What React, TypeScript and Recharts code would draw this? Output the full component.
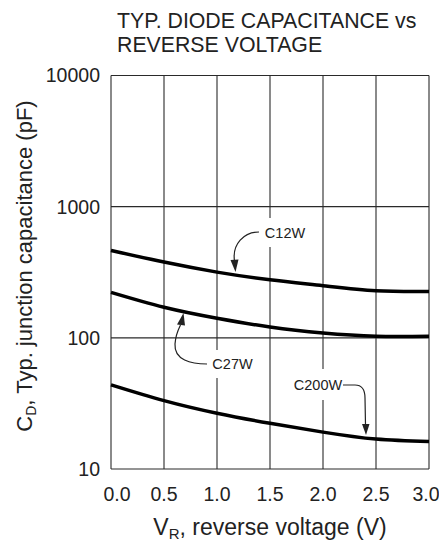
import React from 'react';
import { LineChart, Line, XAxis, YAxis, CartesianGrid } from 'recharts';

// reverse voltage (V) and typ. diode capacitance (pF) per part
const voltage = [0, 0.5, 1.0, 1.5, 2.0, 2.5, 3.0];
const c12w = [464, 378, 317, 277, 250, 229, 226];
const c27w = [222, 171, 141, 121, 109, 103, 103];
const c200w = [43.8, 33.2, 26.6, 22.3, 19.1, 16.9, 16.2];

const xTicks = [0, 0.5, 1.0, 1.5, 2.0, 2.5, 3.0];
const yTicks = [10, 100, 1000, 10000];

const data = voltage.map((v, i) => ({
  v,
  C12W: c12w[i],
  C27W: c27w[i],
  C200W: c200w[i],
}));

const W = 439;
const H = 533;
const FONT = '"Liberation Sans", Arial, Helvetica, sans-serif';
const INK = '#222';

function XTick(props: any) {
  const { x, y, payload, index } = props;
  const shift = index === 0 ? 6 : index === xTicks.length - 1 ? -3 : 0;
  return (
    <text x={x + shift} y={y} dy="0.71em" textAnchor="middle" fontSize={19.5} fill={INK} fontFamily={FONT}>
      {payload.value.toFixed(1)}
    </text>
  );
}

function YTick(props: any) {
  const { x, y, payload } = props;
  return (
    <text x={x} y={y} dy="0.355em" textAnchor="end" fontSize={19.5} fill={INK} fontFamily={FONT}>
      {payload.value}
    </text>
  );
}

function Arrowhead({ points }: { points: string }) {
  return <polygon points={points} fill={INK} />;
}

export default function App() {
  return (
    <div style={{ position: 'relative', width: W, height: H, fontFamily: FONT }}>
      <LineChart
        width={W}
        height={H}
        data={data}
        margin={{ top: 67.5, right: 18, bottom: 0, left: 0 }}
      >
        <CartesianGrid stroke="#2a2a2a" strokeWidth={1.1} />
        <XAxis
          dataKey="v"
          type="number"
          domain={[0, 3]}
          ticks={xTicks}
          height={72}
          tickLine={false}
          axisLine={false}
          tickSize={6}
          tickMargin={12}
          tick={<XTick />}
          interval={0}
        />
        <YAxis
          scale="log"
          domain={[10, 10000]}
          ticks={yTicks}
          width={103}
          allowDataOverflow
          tickLine={false}
          axisLine={false}
          tickSize={6}
          tickMargin={5}
          tick={<YTick />}
          interval={0}
        />
        <Line type="natural" dataKey="C12W" stroke="#000" strokeWidth={3.5} dot={false} isAnimationActive={false} />
        <Line type="natural" dataKey="C27W" stroke="#000" strokeWidth={3.5} dot={false} isAnimationActive={false} />
        <Line type="natural" dataKey="C200W" stroke="#000" strokeWidth={3.5} dot={false} isAnimationActive={false} />
      </LineChart>

      <svg
        width={W}
        height={H}
        style={{ position: 'absolute', left: 0, top: 0, pointerEvents: 'none' }}
      >
        {/* title */}
        <text x={109} y={20} fontSize={21.3} fill={INK} fontFamily={FONT}>TYP. DIODE CAPACITANCE vs</text>
        <text x={109} y={43.5} fontSize={21.3} fill={INK} fontFamily={FONT}>REVERSE VOLTAGE</text>

        {/* axis titles */}
        <text
          x={24}
          y={258}
          transform="rotate(-90 24 258)"
          textAnchor="middle"
          fontSize={22}
          fill={INK}
          fontFamily={FONT}
        >
          C<tspan fontSize={14} dy={4}>D</tspan>
          <tspan dy={-4}>, Typ. junction capacitance (pF)</tspan>
        </text>
        <text x={262} y={527} textAnchor="middle" fontSize={23} fill={INK} fontFamily={FONT}>
          V<tspan fontSize={15} dy={4}>R</tspan>
          <tspan dy={-4}>, reverse voltage (V)</tspan>
        </text>

        {/* curve labels with knock-out behind them */}
        <rect x={255} y={210} width={46} height={29} fill="#fff" />
        <text x={277} y={230} textAnchor="middle" fontSize={14.5} fill={INK} fontFamily={FONT}>C12W</text>
        <path d="M 251 224 C 236 224, 224 236, 226.5 253" fill="none" stroke={INK} strokeWidth={1.2} />
        <Arrowhead points="227.5,264 222.5,252 230.5,251.5" />

        <rect x={202} y={342} width={46} height={28} fill="#fff" />
        <text x={224.5} y={361} textAnchor="middle" fontSize={14.5} fill={INK} fontFamily={FONT}>C27W</text>
        <path d="M 199 356 C 183 356, 166 352, 167 336 C 167.5 328, 170 322, 172.5 317" fill="none" stroke={INK} strokeWidth={1.2} />
        <Arrowhead points="175.5,305 169,316.5 177,317.5" />

        <rect x={284} y={361} width={52} height={31} fill="#fff" />
        <text x={310} y={382} textAnchor="middle" fontSize={14.5} fill={INK} fontFamily={FONT}>C200W</text>
        <path d="M 335 377 L 347 377 C 354 377, 357 382, 357 390 L 357.5 417" fill="none" stroke={INK} strokeWidth={1.2} />
        <Arrowhead points="358,427 354,416 361.5,416" />
      </svg>
    </div>
  );
}
